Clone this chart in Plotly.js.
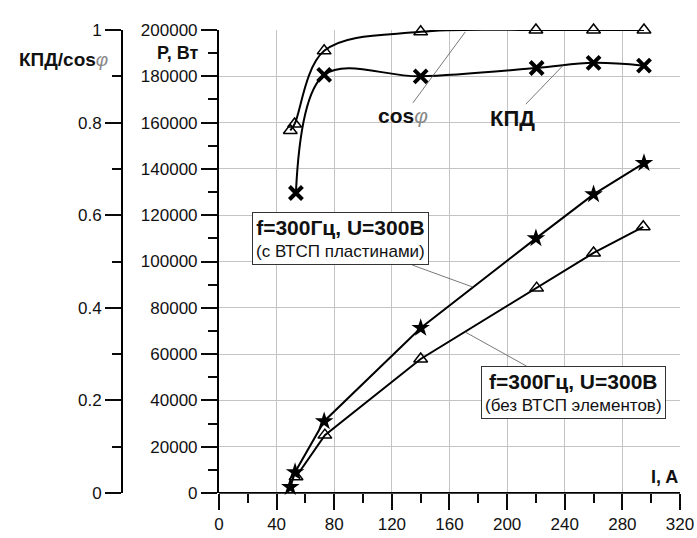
<!DOCTYPE html>
<html>
<head>
<meta charset="utf-8">
<script src="https://cdn.plot.ly/plotly-3.0.1.min.js"></script>
<style>html,body{margin:0;padding:0;background:#fff;}#chart{width:697px;height:538px;}</style>
</head>
<body>
<div id="chart"></div>
<script>
// Current, A
const currentCos = [49.5, 52.5, 73, 140, 220, 260, 295];
const cosPhi     = [0.783, 0.797, 0.955, 0.996, 1.0, 1.0, 1.0];
const currentEff = [53.4, 73, 140, 220.5, 260, 295];
const efficiency = [0.648, 0.903, 0.900, 0.918, 0.929, 0.923];
const currentPwith = [49.5, 52.8, 73, 140, 220, 260, 295];
const powerWith    = [2600, 9000, 31000, 71300, 110000, 129000, 142500];
const currentPwithout = [53.5, 73.5, 140, 220.5, 260, 294.5];
const powerWithout    = [7000, 25000, 57900, 88500, 103700, 115000];
const xTickStep = 40, pTickStep = 20000, kTickStep = 0.2;

const FONT = 'Liberation Sans, Arial, sans-serif';
const INK = 'rgb(10,10,10)';
const lineStyle = {color: '#000', width: 2, shape: 'spline', smoothing: 1};

const traces = [
  {x: currentCos, y: cosPhi, yaxis: 'y2', mode: 'lines+markers', line: lineStyle, cliponaxis: false,
   marker: {symbol: 'triangle-up-open', size: 12, color: '#000', line: {width: 1.5}}},
  {x: currentEff, y: efficiency, yaxis: 'y2', mode: 'lines+markers', line: lineStyle, cliponaxis: false,
   marker: {symbol: 'x-thin-open', size: 13, color: '#000', line: {width: 4, color: '#000'}}},
  {x: currentPwith, y: powerWith, yaxis: 'y', mode: 'lines+markers', line: {color: '#000', width: 2}, cliponaxis: false,
   marker: {symbol: 'star', size: 14, color: '#000'}},
  {x: currentPwithout, y: powerWithout, yaxis: 'y', mode: 'lines+markers', line: {color: '#000', width: 2}, cliponaxis: false,
   marker: {symbol: 'triangle-up-open', size: 12, color: '#000', line: {width: 1.5}}}
];

const tickFont = {family: FONT, size: 17, color: '#111'};
const phi = "<span style='color:#888;font-weight:normal'><i>φ</i></span>";

const layout = {
  width: 697, height: 538,
  margin: {l: 122, r: 17, t: 30, b: 45},
  showlegend: false,
  xaxis: {
    domain: [0.1738, 1], range: [0, 320], tickmode: 'linear', tick0: 0, dtick: xTickStep,
    showgrid: true, gridcolor: '#c4c4c4',
    ticks: 'outside', ticklen: 16, tickwidth: 2, tickcolor: INK,
    minor: {dtick: xTickStep / 2, ticklen: 9, tickwidth: 2, tickcolor: INK, showgrid: false},
    tickfont: tickFont, anchor: 'y'
  },
  yaxis: {
    range: [0, 200000], tickmode: 'linear', tick0: 0, dtick: pTickStep, tickformat: 'd',
    showgrid: true, gridcolor: '#c4c4c4', showline: true, linecolor: '#000', linewidth: 2,
    ticks: 'outside', ticklen: 16, tickwidth: 2, tickcolor: INK,
    minor: {dtick: pTickStep / 2, ticklen: 9, tickwidth: 2, tickcolor: INK, showgrid: false},
    tickfont: tickFont, anchor: 'x'
  },
  yaxis2: {
    overlaying: 'y', anchor: 'free', position: 0, side: 'left',
    range: [0, 1], tickmode: 'linear', tick0: 0, dtick: kTickStep,
    showgrid: false, showline: true, linecolor: '#000', linewidth: 2, zeroline: false,
    ticks: 'outside', ticklen: 16, tickwidth: 2, tickcolor: INK,
    minor: {dtick: kTickStep / 2, ticklen: 9, tickwidth: 2, tickcolor: INK, showgrid: false},
    tickfont: tickFont
  },
  shapes: [
    {type: 'line', xref: 'x', yref: 'y', x0: 0, x1: 320, y0: 0, y1: 0, line: {color: '#000', width: 2}}
  ],
  annotations: [
    {xref: 'paper', yref: 'paper', x: -0.022, y: 0.936, xanchor: 'right', yanchor: 'middle', showarrow: false,
     text: '<b>КПД/cos</b>' + phi, font: {family: FONT, size: 19, color: '#111'}},
    {xref: 'paper', yref: 'paper', x: 0.14, y: 0.95, xanchor: 'right', yanchor: 'middle', showarrow: false,
     text: '<b>P, Вт</b>', font: {family: FONT, size: 18, color: '#111'}},
    {xref: 'paper', yref: 'paper', x: 1.0, y: 0.035, xanchor: 'right', yanchor: 'middle', showarrow: false,
     text: '<b>I, A</b>', font: {family: FONT, size: 18, color: '#111'}},
    {x: 171, y: 0.996, xref: 'x', yref: 'y2', ax: -62, ay: 84, showarrow: true, arrowhead: 0, arrowwidth: 0.8,
     arrowcolor: '#555', text: '<b>cos</b>' + phi, font: {family: FONT, size: 21, color: '#111'}},
    {x: 239, y: 0.924, xref: 'x', yref: 'y2', ax: -51, ay: 53, showarrow: true, arrowhead: 0, arrowwidth: 0.8,
     arrowcolor: '#555', text: '<b>КПД</b>', font: {family: FONT, size: 22, color: '#111'}},
    {x: 176, y: 89000, xref: 'x', yref: 'y', ax: -132, ay: -48, showarrow: true, arrowhead: 0, arrowwidth: 0.8,
     arrowcolor: '#555', bordercolor: '#333', borderwidth: 1, borderpad: 3, bgcolor: '#fff',
     text: "<b><span style='font-size:21px'>f=300Гц, U=300В</span></b><br><span style='font-size:17px'>(с ВТСП пластинами)</span>",
     font: {family: FONT, size: 17, color: '#111'}},
    {x: 171, y: 69500, xref: 'x', yref: 'y', ax: 108, ay: 60, showarrow: true, arrowhead: 0, arrowwidth: 0.8,
     arrowcolor: '#555', bordercolor: '#333', borderwidth: 1, borderpad: 3, bgcolor: '#fff',
     text: "<b><span style='font-size:21px'>f=300Гц, U=300В</span></b><br><span style='font-size:17px'>(без ВТСП элементов)</span>",
     font: {family: FONT, size: 17, color: '#111'}}
  ]
};

Plotly.newPlot('chart', traces, layout, {staticPlot: true, displayModeBar: false});
</script>
</body>
</html>
